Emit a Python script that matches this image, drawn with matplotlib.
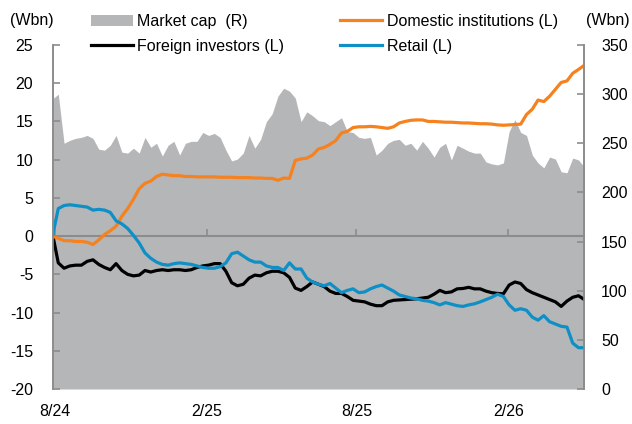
import matplotlib
matplotlib.use("Agg")
import matplotlib.pyplot as plt
import matplotlib.dates as mdates
import pandas as pd
import numpy as np

plt.rcParams['font.family'] = ['Liberation Sans', 'DejaVu Sans']
plt.rcParams['axes.unicode_minus'] = False

# weekly observations
dates = pd.date_range("2024-07-29", "2026-05-04", freq="7D")

domestic = [0, -0.3, -0.6, -0.6, -0.7, -0.7, -0.8, -1.1, -0.5, 0.2,
            0.7, 1.3, 2.6, 3.6, 4.8, 6.2, 6.9, 7.2, 7.8, 8.1,
            8.0, 7.9, 7.9, 7.8, 7.8, 7.75, 7.75, 7.75, 7.75, 7.7,
            7.7, 7.7, 7.65, 7.65, 7.65, 7.6, 7.6, 7.55, 7.55, 7.3,
            7.6, 7.55, 9.9, 10.1, 10.2, 10.6, 11.4, 11.6, 12.0, 12.5,
            13.5, 13.7, 14.2, 14.3, 14.3, 14.35, 14.3, 14.2, 14.1, 14.3,
            14.8, 15.0, 15.15, 15.2, 15.2, 15.0, 15.0, 14.95, 14.9, 14.9,
            14.85, 14.8, 14.8, 14.75, 14.7, 14.7, 14.65, 14.55, 14.5, 14.55,
            14.6, 14.65, 15.9, 16.6, 17.8, 17.6, 18.3, 19.2, 20.1, 20.3,
            21.3, 21.8, 22.35]

retail = [0, 3.6, 4.0, 4.1, 4.0, 3.9, 3.8, 3.4, 3.5, 3.4,
          3.1, 2.0, 1.6, 1.0, 0.1, -0.9, -2.2, -2.9, -3.4, -3.7,
          -3.8, -3.6, -3.5, -3.6, -3.7, -3.9, -4.1, -4.2, -4.2, -4.0,
          -3.5, -2.3, -2.1, -2.6, -3.1, -3.4, -3.4, -3.9, -4.1, -4.1,
          -4.5, -3.5, -4.3, -4.3, -5.5, -6.0, -6.3, -6.5, -6.2, -6.8,
          -7.4, -7.1, -6.9, -7.4, -7.3, -6.9, -6.6, -6.4, -6.8, -7.2,
          -7.7, -7.9, -8.1, -8.2, -8.4, -8.5, -8.7, -9.0, -8.7, -8.9,
          -9.1, -9.2, -9.0, -8.85, -8.6, -8.3, -8.0, -7.6, -7.9, -9.0,
          -9.7, -9.5, -9.7, -10.6, -11.0, -10.4, -11.2, -11.5, -11.8, -11.9,
          -14.0, -14.6, -14.6]

foreign = [0.3, -3.5, -4.2, -3.9, -3.8, -3.8, -3.3, -3.1, -3.7, -4.1,
           -4.4, -3.6, -4.5, -5.0, -5.2, -5.1, -4.5, -4.7, -4.5, -4.4,
           -4.5, -4.4, -4.4, -4.5, -4.4, -4.1, -3.9, -3.8, -3.6, -3.6,
           -4.6, -6.1, -6.5, -6.3, -5.5, -5.1, -5.2, -4.8, -4.6, -4.6,
           -4.8, -5.4, -6.8, -7.1, -6.6, -6.0, -6.3, -6.6, -7.2, -7.5,
           -7.5, -7.9, -8.4, -8.5, -8.6, -8.9, -9.1, -9.1, -8.6, -8.4,
           -8.35, -8.3, -8.25, -8.2, -8.1, -8.0, -7.6, -7.1, -7.4, -7.3,
           -6.9, -6.85, -6.7, -6.9, -6.9, -7.2, -7.4, -7.5, -7.55, -6.4,
           -6.0, -6.2, -7.0, -7.4, -7.7, -8.0, -8.3, -8.6, -9.2, -8.5,
           -8.0, -7.8, -8.3]

market_cap = [295, 300, 250, 253, 255, 256, 258, 255, 244, 243,
              248, 258, 241, 240, 245, 240, 256, 246, 250, 237,
              248, 252, 238, 250, 252, 252, 261, 258, 260, 256,
              243, 232, 234, 240, 258, 245, 254, 272, 280, 298,
              306, 303, 296, 272, 282, 278, 273, 272, 268, 272,
              276, 262, 261, 256, 255, 256, 238, 243, 250, 253,
              254, 248, 250, 243, 252, 245, 236, 246, 250, 233,
              248, 245, 242, 240, 240, 231, 229, 228, 230, 262,
              274, 261, 258, 238, 230, 225, 236, 234, 221, 220,
              235, 233, 226]

tick_dates = pd.to_datetime(["2024-08-01", "2025-02-01", "2025-08-01", "2026-02-01"])
tick_labels = ["8/24", "2/25", "8/25", "2/26"]
left_ticks = list(range(-20, 26, 5))
right_ticks = list(range(0, 351, 50))

GRAY = "#b5b6b8"
ORANGE = "#f5821f"
BLUE = "#0e8fc6"
AXC = "#8c8c8c"

fig = plt.figure(figsize=(6.32, 4.24), dpi=100)
ax = fig.add_axes([52.5/632, 1-389/424, (584.3-52.5)/632, (389-45)/424])
ax2 = ax.twinx()

ax2.fill_between(dates, 0, market_cap, color=GRAY, lw=0, label="Market cap  (R)")
ax2.set_ylim(0, 350)
ax2.set_yticks(right_ticks)

ax.set_zorder(ax2.get_zorder() + 1)
ax.patch.set_visible(False)

l_for, = ax.plot(dates, foreign, color="black", lw=2.3, label="Foreign investors (L)")
l_dom, = ax.plot(dates, domestic, color=ORANGE, lw=2.3, label="Domestic institutions (L)")
l_ret, = ax.plot(dates, retail, color=BLUE, lw=2.3, label="Retail (L)")

ax.set_ylim(-20, 25)
ax.set_yticks(left_ticks)
ax.set_xlim(dates[0], dates[-1])
ax.set_xticks(tick_dates)
ax.set_xticklabels(tick_labels)

for a in (ax, ax2):
    for s in ("top", "bottom"):
        a.spines[s].set_visible(False)
    a.spines["left"].set_color(AXC)
    a.spines["right"].set_color(AXC)
    a.spines["left"].set_linewidth(1.2)
    a.spines["right"].set_linewidth(1.2)

ax.tick_params(axis="y", direction="in", length=5, color=AXC, width=1.2,
               labelsize=11.5, pad=14)
ax2.tick_params(axis="y", direction="in", length=5, color=AXC, width=1.2,
                labelsize=11.5, pad=12)
ax.tick_params(axis="x", length=0, labelsize=11.5, pad=11)

# zero line with ticks
sec = ax.secondary_xaxis(20/45)
sec.set_xticks(tick_dates)
sec.set_xticklabels([])
sec.spines["bottom"].set_color(AXC)
sec.spines["bottom"].set_linewidth(1.5)
sec.tick_params(axis="x", direction="in", length=5, color=AXC, width=1.2)

fig.text(10/632, 1-21/424, "(Wbn)", fontsize=11.5, ha="left", va="center")
fig.text(630/632, 1-21/424, "(Wbn)", fontsize=11.5, ha="right", va="center")

handles = [ax2.collections[0], l_for, l_dom, l_ret]
labels = [h.get_label() for h in handles]
fig.legend(handles, labels, ncol=2, loc="upper left",
           bbox_to_anchor=(91/632, 1-14/424), frameon=False,
           fontsize=11.5, handlelength=2.6, handletextpad=0.3,
           columnspacing=3.5, labelspacing=0.6, borderpad=0, borderaxespad=0)

fig.savefig("out.png", dpi=100)
